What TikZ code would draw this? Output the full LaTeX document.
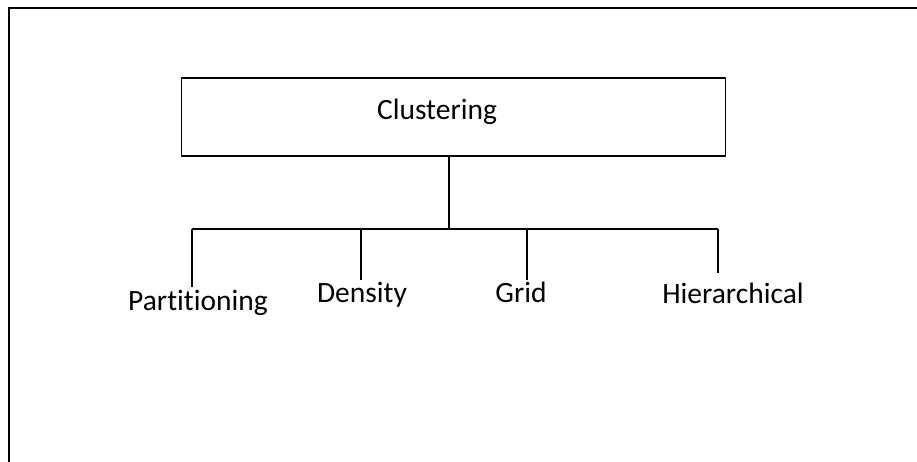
\documentclass[tikz,border=0pt]{standalone}
\usepackage{fontspec}
\setmainfont[Ligatures=NoCommon]{Carlito}
\begin{document}
\begin{tikzpicture}[x=1pt, y=-1pt,
    box/.style = {draw, line width=1.5pt, minimum width=544pt, minimum height=78pt, inner sep=0pt},
    word/.style = {font=\fontsize{29.5}{34}\selectfont, inner sep=0pt, anchor=base},
    link/.style = {line width=1.5pt}]
    \useasboundingbox (0,0) rectangle (917,462);
    % frame
    \draw[line width=2.5pt] (9,470) -- (9,8) -- (925,8);
    % top box
    \node[box] (root) at (453.5,117) {};
    \node[word] (title) at (437,120) {Clustering};
    % branches
    \coordinate (j) at (449,229);
    \coordinate (a) at (192,229);
    \coordinate (b) at (361,229);
    \coordinate (c) at (527,229);
    \coordinate (d) at (718,229);
    \coordinate (a2) at (192,287);
    \coordinate (b2) at (361,280);
    \coordinate (c2) at (527,280);
    \coordinate (d2) at (718,273);
    \node[word] (1) at (198,310) {Partitioning};
    \node[word] (2) at (362,302) {Density};
    \node[word] (3) at (521,302) {Grid};
    \node[word] (4) at (733,303) {Hierarchical};
    \draw[link] (j |- root.south) -- (j);
    \draw[link] (a) -- (d);
    \draw[link] (a) -- (a2);
    \draw[link] (b) -- (b2);
    \draw[link] (c) -- (c2);
    \draw[link] (d) -- (d2);
\end{tikzpicture}
\end{document}
